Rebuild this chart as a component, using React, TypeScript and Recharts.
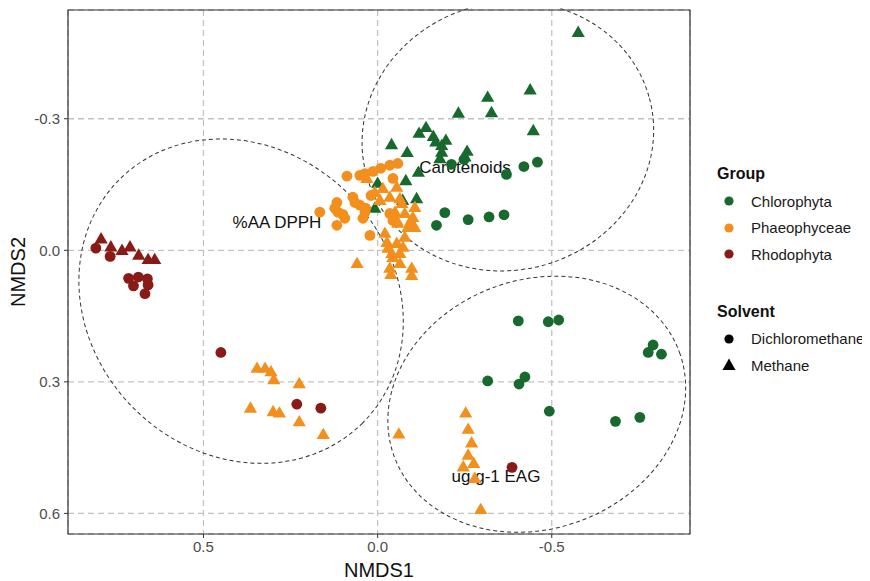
import React from "react";
import {
  ScatterChart,
  Scatter,
  XAxis,
  YAxis,
  CartesianGrid,
  ReferenceArea,
} from "recharts";

type Pt = [number, number];

// NMDS scores: [NMDS1, NMDS2]
const chloroDcm: Pt[] = [
  [-0.459, -0.201], [-0.42, -0.191], [-0.37, -0.173], [-0.248, -0.207], [-0.212, -0.196],
  [-0.193, -0.086], [-0.169, -0.057], [-0.26, -0.07], [-0.32, -0.076], [-0.363, -0.081],
  [-0.404, 0.161], [-0.49, 0.163], [-0.52, 0.159], [-0.791, 0.216], [-0.777, 0.233],
  [-0.815, 0.237], [-0.316, 0.298], [-0.423, 0.289], [-0.406, 0.305], [-0.493, 0.367],
  [-0.683, 0.39], [-0.753, 0.381],
];
const chloroMeth: Pt[] = [
  [-0.576, -0.497], [-0.438, -0.366], [-0.316, -0.349], [-0.327, -0.314], [-0.232, -0.313],
  [-0.447, -0.273], [-0.139, -0.28], [-0.119, -0.267], [-0.16, -0.26], [-0.196, -0.251],
  [-0.167, -0.247], [-0.04, -0.241], [-0.085, -0.223], [-0.257, -0.226], [-0.184, -0.224],
  [-0.179, -0.209], [-0.251, -0.213], [-0.117, -0.178], [-0.081, -0.159], [-0.112, -0.118],
  [-0.072, -0.114], [0.0, -0.153], [0.008, -0.096], [-0.184, -0.239],
];
const phaeoDcm: Pt[] = [
  [-0.058, -0.198], [-0.035, -0.194], [-0.009, -0.187], [0.013, -0.18], [0.036, -0.175],
  [0.051, -0.171], [0.088, -0.169], [-0.044, -0.164], [0.019, -0.125], [0.071, -0.121],
  [0.117, -0.109], [0.065, -0.109], [0.051, -0.103], [0.123, -0.096], [0.034, -0.096],
  [0.114, -0.087], [0.166, -0.087], [0.036, -0.087], [0.1, -0.082], [-0.035, -0.084],
  [0.094, -0.073], [0.042, -0.073], [-0.044, -0.068], [0.117, -0.057], [0.022, -0.034],
];
const phaeoMeth: Pt[] = [
  [0.031, -0.164], [-0.015, -0.141], [0.008, -0.132], [-0.055, -0.144], [-0.007, -0.114],
  [-0.035, -0.121], [-0.064, -0.118], [-0.07, -0.107], [-0.107, -0.098], [-0.05, -0.087],
  [-0.078, -0.084], [-0.101, -0.075], [-0.055, -0.068], [-0.093, -0.064], [-0.058, -0.062],
  [-0.107, -0.052], [-0.087, -0.052], [-0.021, -0.039], [-0.078, -0.03], [-0.027, -0.018],
  [-0.055, -0.016], [-0.073, -0.007], [-0.03, -0.005], [-0.041, 0.007], [-0.064, 0.007],
  [-0.044, 0.016], [-0.064, 0.03], [0.059, 0.03], [-0.035, 0.041], [-0.098, 0.041],
  [-0.038, 0.055], [-0.098, 0.057],
  [0.346, 0.269], [0.323, 0.269], [0.306, 0.277], [0.298, 0.295], [0.225, 0.304],
  [0.365, 0.36], [0.3, 0.368], [0.282, 0.371], [0.225, 0.391], [0.156, 0.42],
  [-0.253, 0.371], [-0.26, 0.408], [-0.27, 0.439], [-0.26, 0.467], [-0.276, 0.486],
  [-0.246, 0.494], [-0.279, 0.52], [-0.296, 0.591], [-0.061, 0.419],
];
const rhodoDcm: Pt[] = [
  [0.809, -0.005], [0.768, 0.014], [0.715, 0.064], [0.687, 0.061], [0.661, 0.065],
  [0.701, 0.081], [0.659, 0.079], [0.668, 0.099], [0.45, 0.233], [0.232, 0.351],
  [0.163, 0.36], [-0.386, 0.495],
];
const rhodoMeth: Pt[] = [
  [0.794, -0.026], [0.766, -0.008], [0.734, 0.0], [0.711, -0.008], [0.686, 0.011],
  [0.659, 0.021], [0.64, 0.021],
];

const groups = ["Chlorophyta", "Phaeophyceae", "Rhodophyta"];
const solvents = ["Dichloromethane", "Methane"];

const xTicks = [0.5, 0, -0.5];
const yTicks = [-0.3, 0, 0.3, 0.6];
const xDomain: [number, number] = [-0.897, 0.889];
const yDomain: [number, number] = [-0.548, 0.647];

// fitted variable labels
const vectorLabels = ["%AA DPPH", "Carotenoids", "ug g-1 EAG"];
const vectorX = [0.289, -0.251, -0.34];
const vectorY = [-0.064, -0.189, 0.517];

// cluster ellipses: centre and semi-axes in NMDS units
const ellipseCx = [0.392, -0.374, -0.457];
const ellipseCy = [0.116, -0.26, 0.351];
const ellipseAx = [0.494, 0.421, 0.436];
const ellipseAy = [0.346, 0.305, 0.284];
const ellipseTilt = [45, -15, -20];

const COLORS = ["#17692e", "#f28f1d", "#8a1a16"];
const FONT = "'Liberation Sans', Arial, Helvetica, sans-serif";

const toXY = (pts: Pt[]) => pts.map(([x, y]) => ({ x, y }));

const circleShape = (color: string) => (p: any) => (
  <circle cx={p.cx} cy={p.cy} r={5.4} fill={color} />
);

const triangleShape = (color: string) => (p: any) => (
  <path
    d={`M${p.cx},${p.cy - 6.8}L${p.cx + 6.6},${p.cy + 4.6}L${p.cx - 6.6},${p.cy + 4.6}Z`}
    fill={color}
  />
);

const labelShape = (p: any) => (
  <text
    x={p.cx}
    y={p.cy}
    textAnchor="middle"
    dominantBaseline="central"
    fontSize={17}
    fontFamily={FONT}
    fill="#111"
  >
    {p.payload.label}
  </text>
);

const ellipseShape = (tilt: number) => (p: any) => {
  const cx = p.x + p.width / 2;
  const cy = p.y + p.height / 2;
  return (
    <ellipse
      cx={cx}
      cy={cy}
      rx={Math.abs(p.width) / 2}
      ry={Math.abs(p.height) / 2}
      transform={`rotate(${tilt} ${cx} ${cy})`}
      fill="none"
      stroke="#333"
      strokeWidth={1}
      strokeDasharray="4 3"
    />
  );
};

function Legend() {
  const row = (sym: React.ReactNode, text: string) => (
    <div style={{ display: "flex", alignItems: "center", height: 26.5 }}>
      <svg width={24} height={20} style={{ flex: "none" }}>
        {sym}
      </svg>
      <span style={{ marginLeft: 10, fontSize: 15, color: "#1a1a1a" }}>{text}</span>
    </div>
  );
  const title = (t: string) => (
    <div style={{ height: 29, lineHeight: "29px", fontSize: 16, fontWeight: "bold", color: "#111" }}>
      {t}
    </div>
  );
  return (
    <div style={{ position: "absolute", left: 717, top: 159, fontFamily: FONT }}>
      {title("Group")}
      {groups.map((g, i) => (
        <React.Fragment key={g}>{row(<circle cx={12} cy={10} r={4.6} fill={COLORS[i]} />, g)}</React.Fragment>
      ))}
      <div style={{ height: 29 }} />
      {title("Solvent")}
      {row(<circle cx={12} cy={10} r={4.6} fill="#000" />, solvents[0])}
      {row(<path d="M12,3.5L18.5,15L5.5,15Z" fill="#000" />, solvents[1])}
    </div>
  );
}

export default function App() {
  const labelData = vectorLabels.map((label, i) => ({ x: vectorX[i], y: vectorY[i], label }));
  const tickStyle = { fill: "#4d4d4d", fontSize: 15, fontFamily: FONT };
  return (
    <div
      style={{
        position: "relative",
        marginTop: -8,
        marginLeft: -8,
        width: 870,
        height: 581,
        fontFamily: FONT,
      }}
    >
      <ScatterChart width={698} height={581} margin={{ top: 10, right: 8, left: 0, bottom: 0 }}>
        <CartesianGrid stroke="#c2c2c2" strokeWidth={1.3} strokeDasharray="6 4" />
        <XAxis
          type="number"
          dataKey="x"
          domain={xDomain}
          allowDataOverflow
          reversed
          ticks={xTicks}
          tickFormatter={(v: number) => v.toFixed(1)}
          tick={tickStyle}
          tickSize={4}
          tickMargin={3}
          tickLine={{ stroke: "#333" }}
          axisLine={false}
          height={47}
          label={{ value: "NMDS1", position: "insideBottom", offset: 4, fontSize: 20, fill: "#111", fontFamily: FONT }}
        />
        <YAxis
          type="number"
          dataKey="y"
          domain={yDomain}
          allowDataOverflow
          reversed
          ticks={yTicks}
          tickFormatter={(v: number) => v.toFixed(1)}
          tick={tickStyle}
          tickSize={4}
          tickMargin={4}
          tickLine={{ stroke: "#333" }}
          axisLine={false}
          width={68}
          label={{
            value: "NMDS2",
            angle: -90,
            position: "insideLeft",
            offset: 18,
            fontSize: 20,
            fill: "#111",
            fontFamily: FONT,
            style: { textAnchor: "middle" },
          }}
        />
        {ellipseCx.map((cx, i) => (
          <ReferenceArea
            key={"e" + i}
            x1={cx - ellipseAx[i]}
            x2={cx + ellipseAx[i]}
            y1={ellipseCy[i] - ellipseAy[i]}
            y2={ellipseCy[i] + ellipseAy[i]}
            ifOverflow="hidden"
            shape={ellipseShape(ellipseTilt[i])}
          />
        ))}
        <ReferenceArea
          x1={xDomain[0]}
          x2={xDomain[1]}
          y1={yDomain[0]}
          y2={yDomain[1]}
          ifOverflow="visible"
          fill="none"
          fillOpacity={0}
          stroke="#333"
          strokeWidth={1.2}
        />
        <Scatter data={labelData} shape={labelShape} isAnimationActive={false} />
        <Scatter data={toXY(chloroDcm)} shape={circleShape(COLORS[0])} isAnimationActive={false} />
        <Scatter data={toXY(chloroMeth)} shape={triangleShape(COLORS[0])} isAnimationActive={false} />
        <Scatter data={toXY(phaeoDcm)} shape={circleShape(COLORS[1])} isAnimationActive={false} />
        <Scatter data={toXY(phaeoMeth)} shape={triangleShape(COLORS[1])} isAnimationActive={false} />
        <Scatter data={toXY(rhodoDcm)} shape={circleShape(COLORS[2])} isAnimationActive={false} />
        <Scatter data={toXY(rhodoMeth)} shape={triangleShape(COLORS[2])} isAnimationActive={false} />
      </ScatterChart>
      <Legend />
    </div>
  );
}
